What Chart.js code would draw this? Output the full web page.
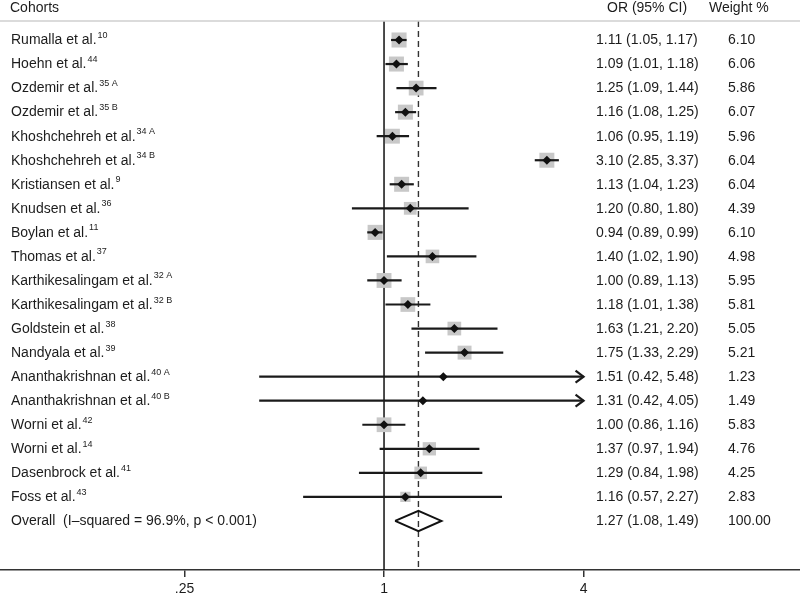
<!DOCTYPE html>
<html><head><meta charset="utf-8">
<script src="https://cdn.jsdelivr.net/npm/chart.js@4"></script>
<style>html,body{margin:0;padding:0;background:#fff}#wrap{width:800px;height:598px}</style>
</head><body><div id="wrap"><canvas id="c" width="800" height="598"></canvas></div>
<script>
// ---------------- data ----------------
const studies = ["Rumalla et al.","Hoehn et al.","Ozdemir et al.","Ozdemir et al.","Khoshchehreh et al.","Khoshchehreh et al.","Kristiansen et al.","Knudsen et al.","Boylan et al.","Thomas et al.","Karthikesalingam et al.","Karthikesalingam et al.","Goldstein et al.","Nandyala et al.","Ananthakrishnan et al.","Ananthakrishnan et al.","Worni et al.","Worni et al.","Dasenbrock et al.","Foss et al."];
const refs = ["10","44","35 A","35 B","34 A","34 B","9","36","11","37","32 A","32 B","38","39","40 A","40 B","42","14","41","43"];
const orValues = [1.11,1.09,1.25,1.16,1.06,3.10,1.13,1.20,0.94,1.40,1.00,1.18,1.63,1.75,1.51,1.31,1.00,1.37,1.29,1.16];
const ciLow =    [1.05,1.01,1.09,1.08,0.95,2.85,1.04,0.80,0.89,1.02,0.89,1.01,1.21,1.33,0.42,0.42,0.86,0.97,0.84,0.57];
const ciHigh =   [1.17,1.18,1.44,1.25,1.19,3.37,1.23,1.80,0.99,1.90,1.13,1.38,2.20,2.29,5.48,4.05,1.16,1.94,1.98,2.27];
const weights =  [6.10,6.06,5.86,6.07,5.96,6.04,6.04,4.39,6.10,4.98,5.95,5.81,5.05,5.21,1.23,1.49,5.83,4.76,4.25,2.83];
const overallLabel = "Overall  (I\u2013squared = 96.9%, p < 0.001)";
const overallOR = 1.27, overallLow = 1.08, overallHigh = 1.49, overallWeight = 100.00;
const xTicks = [0.25, 1, 4];
const xTickLabels = [".25", "1", "4"];
const ciClip = 4;
const headers = ["Cohorts", "OR (95% CI)", "Weight %"];

// ---------------- layout constants ----------------
const X_MIN = 0.06936, X_MAX = 18.0;
const Y_MIN = -0.79, Y_MAX = 22.04;
const FONT = '"Liberation Sans", Arial, Helvetica, sans-serif';
const TXT = '#1c1c1c';
const nRows = studies.length;
const overallRow = nRows;

const fmt = v => v.toFixed(2);

const datasets = [];
// reference lines
datasets.push({data:[{x:1,y:Y_MIN},{x:1,y:Y_MAX}], showLine:true, borderColor:'#111', borderWidth:1.5, pointRadius:0, order:10});
datasets.push({data:[{x:overallOR,y:Y_MIN},{x:overallOR,y:Y_MAX}], showLine:true, borderColor:'#333', borderWidth:1.4, borderDash:[6,4], pointRadius:0, order:10});
// weight boxes
datasets.push({data: orValues.map((v,i)=>({x:v,y:i})), pointStyle:'rect',
  pointRadius: ctx => (ciHigh[ctx.dataIndex] > ciClip) ? 0 : 6.1*Math.sqrt(weights[ctx.dataIndex])/Math.SQRT2,
  backgroundColor:'#c8c8c8', borderWidth:0, order:6});
// CI lines
orValues.forEach((v,i)=>{
  datasets.push({data:[{x:ciLow[i],y:i},{x:Math.min(ciHigh[i],ciClip),y:i}], showLine:true, borderColor:'#1a1a1a', borderWidth:2.2, pointRadius:0, order:3});
});
// point estimates
datasets.push({data: orValues.map((v,i)=>({x:v,y:i})), pointStyle:'rectRot', pointRadius:4.5, backgroundColor:'#111', borderWidth:0, order:1});
// overall diamond
datasets.push({data:[{x:overallLow,y:overallRow},{x:overallOR,y:overallRow-0.42},{x:overallHigh,y:overallRow},{x:overallOR,y:overallRow+0.42},{x:overallLow,y:overallRow}],
  showLine:true, borderColor:'#111', borderWidth:2, borderJoinStyle:'miter', pointRadius:0, order:2});

const textPlugin = {
  id:'forestText',
  afterDatasetsDraw(chart){
    const ctx = chart.ctx, xs = chart.scales.x, ys = chart.scales.y;
    ctx.save();
    ctx.strokeStyle = '#1a1a1a'; ctx.lineWidth = 2.2; ctx.lineJoin='miter';
    ciHigh.forEach((h,i)=>{
      if (h > ciClip){
        const px = xs.getPixelForValue(ciClip), py = ys.getPixelForValue(i);
        ctx.beginPath(); ctx.moveTo(px-8, py-6); ctx.lineTo(px, py); ctx.lineTo(px-8, py+6); ctx.stroke();
      }
    });
    ctx.restore();
  },
  afterDraw(chart){
    const ctx = chart.ctx, ys = chart.scales.y;
    ctx.save();
    ctx.strokeStyle = '#cfcfcf'; ctx.lineWidth = 1.5;
    ctx.beginPath(); ctx.moveTo(0, 21); ctx.lineTo(800, 21); ctx.stroke();
    ctx.fillStyle = TXT; ctx.textBaseline = 'middle'; ctx.textAlign = 'left';
    ctx.font = '14px ' + FONT;
    ctx.fillText(headers[0], 10, 8);
    ctx.fillText(headers[1], 607, 8);
    ctx.fillText(headers[2], 709, 8);
    for (let i=0;i<nRows;i++){
      const y = ys.getPixelForValue(i) + 0.5;
      ctx.font = '14px ' + FONT;
      ctx.fillText(studies[i], 11, y);
      const w = ctx.measureText(studies[i]).width;
      ctx.fillText(`${fmt(orValues[i])} (${fmt(ciLow[i])}, ${fmt(ciHigh[i])})`, 596, y);
      ctx.fillText(fmt(weights[i]), 728, y);
      ctx.font = '9px ' + FONT;
      ctx.fillText(refs[i], 11 + w + 1, y - 5);
    }
    const yo = ys.getPixelForValue(overallRow) + 0.5;
    ctx.font = '14px ' + FONT;
    ctx.fillText(overallLabel, 11, yo);
    ctx.fillText(`${fmt(overallOR)} (${fmt(overallLow)}, ${fmt(overallHigh)})`, 596, yo);
    ctx.fillText(fmt(overallWeight), 728, yo);
    ctx.restore();
  }
};

new Chart(document.getElementById('c'), {
  type:'scatter',
  data:{datasets},
  options:{
    responsive:false, animation:false, devicePixelRatio:1, events:[],
    layout:{autoPadding:false, padding:{top:21, bottom:-3, left:0, right:0}},
    plugins:{legend:{display:false}, tooltip:{enabled:false}},
    scales:{
      x:{type:'logarithmic', min:X_MIN, max:X_MAX,
        afterBuildTicks: s => { s.ticks = xTicks.map(v=>({value:v})); },
        afterFit: s => { s.paddingLeft = 0; s.paddingRight = 0; },
        ticks:{callback:(v)=>{const k=xTicks.indexOf(v); return k>=0?xTickLabels[k]:'';}, autoSkip:false, maxRotation:0, padding:5,
          font:{size:14, family:FONT, lineHeight:1.0}, color:TXT},
        grid:{drawOnChartArea:false, drawTicks:true, tickLength:7, color:'#333', lineWidth:1.5},
        border:{display:true, color:'#333', width:1.5}
      },
      y:{type:'linear', display:false, min:Y_MIN, max:Y_MAX, reverse:true}
    }
  },
  plugins:[textPlugin]
});
</script></body></html>
